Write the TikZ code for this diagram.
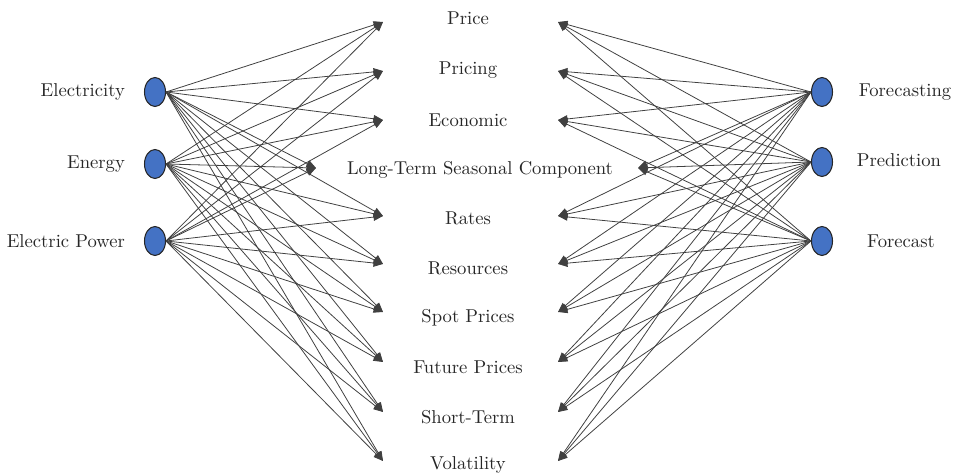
\documentclass[tikz,border=0pt]{standalone}
\usetikzlibrary{arrows.meta,positioning,shapes.geometric}
\definecolor{dotblue}{HTML}{4472C4}

\begin{document}
\begin{tikzpicture}[x=0.2mm, y=-0.2mm,
  dot/.style={ellipse, draw=black!85, fill=dotblue, line width=0.6pt,
              minimum width=4.2mm, minimum height=5.8mm, inner sep=0pt},
  term/.style={font=\fontsize{10.6}{13}\selectfont, text=black!85, inner sep=1pt},
  arr/.style={-{Triangle[length=1.9mm, width=1.5mm]}, black!75, line width=0.45pt},
  node distance=3.4mm]
\useasboundingbox (0,0) rectangle (954,476);
% middle terms, with the arrow tips on both sides
\foreach \n/\tx/\ty/\tip/\xl/\xr/\txt in {
    price/468/18/22/383/558/Price,
    pricing/468/70/71/383/558/Pricing,
    economic/468/120/120/383/558/Economic,
    longterm/480/170/168/316/638/Long-Term Seasonal Component,
    rates/468/218/216/383/558/Rates,
    resources/468/268/264/383/558/Resources,
    spot/468/318/312/383/558/Spot Prices,
    future/468/367/362/383/558/Future Prices,
    short/468/417/412/383/558/Short-Term,
    volatility/468/465/461/383/558/Volatility} {
  \node[term] (\n) at (\tx,\ty) {\txt};
  \coordinate (\n-l) at (\xl,\tip);
  \coordinate (\n-r) at (\xr,\tip);
}
% left side
\node[dot] (elec) at (155,92) {};
\node[dot] (energy) at (155,164) {};
\node[dot] (power) at (155,241) {};
\node[term, left=of elec] (elec-t) {Electricity};
\node[term, left=of energy] (energy-t) {Energy};
\node[term, left=of power] (power-t) {Electric Power};
% right side
\node[dot] (fcing) at (822,92) {};
\node[dot] (pred) at (822,162) {};
\node[dot] (fcast) at (822,241) {};
\node[term] (fcing-t) at (905,92) {Forecasting};
\node[term] (pred-t) at (899,160) {Prediction};
\node[term] (fcast-t) at (901,241) {Forecast};
% every keyword to every term
\foreach \s in {elec,energy,power}
  \foreach \n in {price,pricing,economic,longterm,rates,resources,spot,future,short,volatility}
    \draw[arr] (\s.east) -- (\n-l);
\foreach \s in {fcing,pred,fcast}
  \foreach \n in {price,pricing,economic,longterm,rates,resources,spot,future,short,volatility}
    \draw[arr] (\s.west) -- (\n-r);
\end{tikzpicture}
\end{document}
